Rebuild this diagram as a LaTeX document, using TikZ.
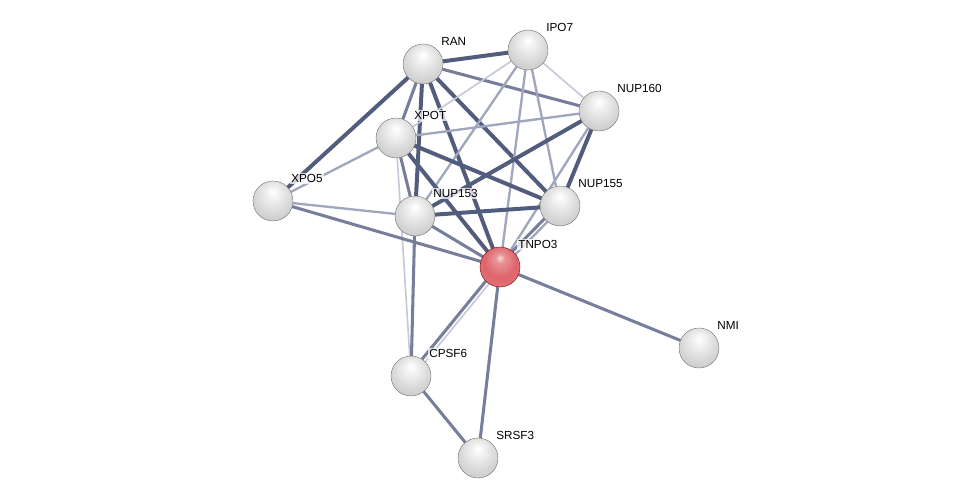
\documentclass[tikz,border=0pt]{standalone}
\usepackage{fontspec}
\setsansfont{Liberation Sans}
\usepackage{xcolor}
\usetikzlibrary{backgrounds}
\definecolor{edgedark}{RGB}{82,92,124}
\definecolor{edgemid}{RGB}{118,126,156}
\definecolor{edgelight}{RGB}{160,166,190}
\definecolor{edgefaint}{RGB}{196,200,216}
\definecolor{ballred}{RGB}{222,100,106}
\pgfdeclareradialshading{stringgray}{\pgfpoint{0bp}{12bp}}{%
	color(0bp)=(white); color(6bp)=(white!96!black); color(20bp)=(white!86!black);
	color(30bp)=(white!80!black); color(35bp)=(white!62!black); color(50bp)=(white!45!black)}
\pgfdeclareradialshading{stringred}{\pgfpoint{0bp}{12bp}}{%
	color(0bp)=(ballred!25!white); color(6bp)=(ballred!70!white); color(20bp)=(ballred);
	color(30bp)=(ballred!92!white); color(35bp)=(ballred!60!black); color(50bp)=(ballred!40!black)}

\begin{document}
\begin{tikzpicture}[x=0.03cm, y=-0.03cm,
	prot/.style={circle, minimum size=1.2cm, inner sep=0pt, outer sep=0pt, shade, shading=stringgray, draw=gray!80!black, line width=0.3pt},
	hit/.style={prot, shading=stringred, draw=red!35!black},
	lbltext/.style={font=\sffamily\fontsize{10}{12}\selectfont, text=black, inner sep=0.8pt, fill=white, fill opacity=0.75, text opacity=1, xshift=2.6pt, yshift=2.6pt},
	e1/.style={edgefaint, line width=1.4pt},
	e2/.style={edgelight, line width=2pt},
	e3/.style={edgemid, line width=2.6pt},
	e4/.style={edgedark, line width=3.4pt}]
		\useasboundingbox (0,0) rectangle (976,503);
		%
		%Proteine
		\node[prot, label={[lbltext]45:RAN}] (ran) at (423,64) {};
		\node[prot, label={[lbltext]45:IPO7}] (ipo7) at (528,50) {};
		\node[prot, label={[lbltext]45:NUP160}] (nup160) at (599,111) {};
		\node[prot, label={[lbltext]45:XPOT}] (xpot) at (396,138) {};
		\node[prot, label={[lbltext]45:XPO5}] (xpo5) at (273,201) {};
		\node[prot, label={[lbltext]45:NUP153}] (nup153) at (415,216) {};
		\node[prot, label={[lbltext]45:NUP155}] (nup155) at (560,206) {};
		\node[hit, label={[lbltext]45:TNPO3}] (tnpo3) at (500,267) {};
		\node[prot, label={[lbltext]45:NMI}] (nmi) at (699,348) {};
		\node[prot, label={[lbltext]45:CPSF6}] (cpsf6) at (411,376) {};
		\node[prot, label={[lbltext]45:SRSF3}] (srsf3) at (478,458) {};
		%
		\begin{scope}[on background layer]
		%Kanten RAN
		\draw[e4] (ran) -- (ipo7);
		\draw[e3] (ran) -- (nup160);
		\draw[e3] (ran) -- (xpot);
		\draw[e4] (ran) -- (xpo5);
		\draw[e4] (ran) -- (nup153);
		\draw[e4] (ran) -- (tnpo3);
		\draw[e4] (ran) -- (nup155);
		%
		%Kanten IPO7
		\draw[e1] (ipo7) -- (xpot);
		\draw[e1] (ipo7) -- (nup160);
		\draw[e2] (ipo7) -- (nup153);
		\draw[e2] (ipo7) -- (tnpo3);
		\draw[e2] (ipo7) -- (nup155);
		%
		%Kanten XPOT
		\draw[e2] (xpot) -- (nup160);
		\draw[e2] (xpot) -- (xpo5);
		\draw[e3] (xpot) -- (nup153);
		\draw[e4] (xpot) -- (nup155);
		\draw[e4] (xpot) -- (tnpo3);
		\draw[e1] (xpot) -- (cpsf6);
		%
		%Kanten NUP160
		\draw[e4] (nup160) -- (nup153);
		\draw[e4] (nup160) -- (nup155);
		\draw[e2] (nup160) -- (tnpo3);
		%
		%Kanten XPO5
		\draw[e2] (xpo5) -- (nup153);
		\draw[e3] (xpo5) -- (tnpo3);
		%
		%Kanten NUP153
		\draw[e4] (nup153) -- (nup155);
		\draw[e3] (nup153) -- (tnpo3);
		\draw[e3] (nup153) -- (cpsf6);
		%
		%Kanten TNPO3 (doppelt)
		\draw[e2, transform canvas={shift={(1.5,1.5)}}] (tnpo3) -- (nup155);
		\draw[e3, transform canvas={shift={(-1.5,-1.5)}}] (tnpo3) -- (nup155);
		\draw[e1, transform canvas={shift={(1.6,1.3)}}] (tnpo3) -- (cpsf6);
		\draw[e3, transform canvas={shift={(-1.6,-1.3)}}] (tnpo3) -- (cpsf6);
		%
		%Kanten TNPO3
		\draw[e3] (tnpo3) -- (nmi);
		\draw[e3] (tnpo3) -- (srsf3);
		\draw[e3] (cpsf6) -- (srsf3);
		\end{scope}
	\end{tikzpicture}
\end{document}
